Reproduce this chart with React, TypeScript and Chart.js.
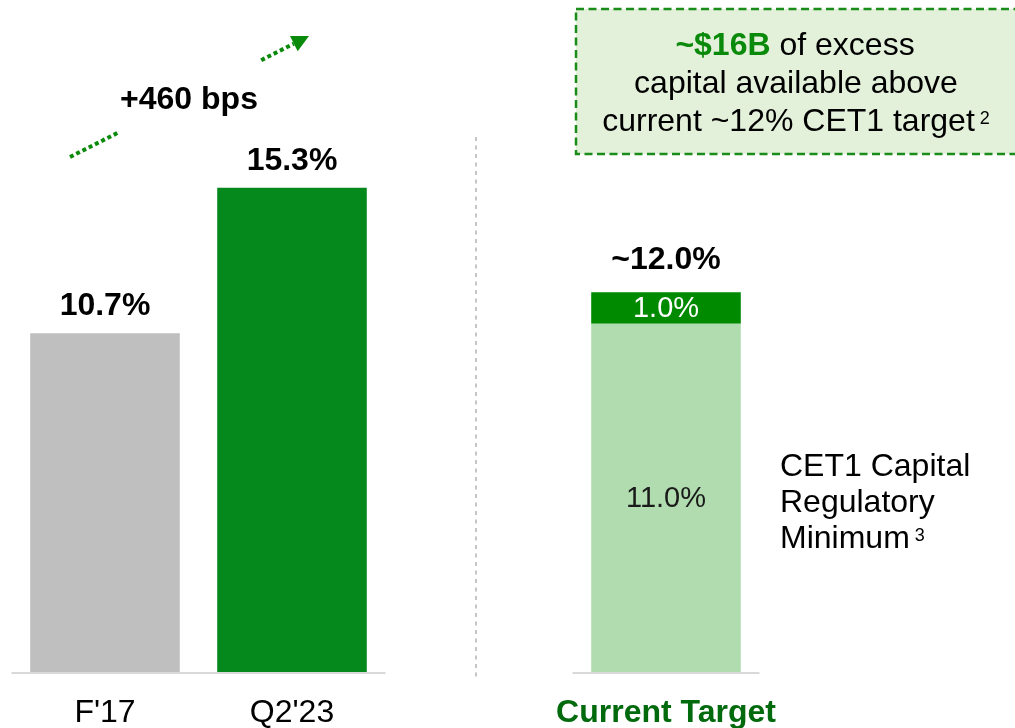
import React, { useEffect, useRef } from "react";
import { Chart, registerables } from "chart.js";

Chart.register(...registerables);

// ---------- data ----------
const categories = ["F'17", "Q2'23", "", "Current Target"];
const baseValues: (number | null)[] = [10.7, 15.3, null, 11.0];
const bufferValues: (number | null)[] = [null, null, null, 1.0];
const totalLabels = ["10.7%", "15.3%", "", "~12.0%"];
const baseInnerLabels = ["", "", "", "11.0%"];
const bufferInnerLabels = ["", "", "", "1.0%"];
const changeLabel = "+460 bps";
const boxHighlight = "~$16B";
const boxLine1Rest = " of excess";
const boxLine2 = "capital available above";
const boxLine3 = "current ~12% CET1 target";
const boxFootnote = "2";
const sideNoteLines = ["CET1 Capital", "Regulatory", "Minimum"];
const sideFootnote = "3";

// ---------- styles ----------
const FONT = "'Liberation Sans', Arial, sans-serif";
const FS = 32;
const baseColors = ["#bfbfbf", "#05891d", "rgba(0,0,0,0)", "#b0dcb0"];
const bufferColor = "#008a00";
const greenText = "#0a8a0a";
const darkGreenText = "#016a0c";

const overlayPlugin = {
  id: "overlay",
  beforeDatasetsDraw(chart: any) {
    const ctx = chart.ctx;
    const x = chart.scales.x;
    const y = chart.scales.y;
    const cw = x.width / categories.length;
    const y0 = y.getPixelForValue(0);
    ctx.save();
    // baseline segments
    ctx.strokeStyle = "#d9d9d9";
    ctx.lineWidth = 2;
    ctx.beginPath();
    ctx.moveTo(x.getPixelForValue(0) - cw / 2, y0 + 1);
    ctx.lineTo(x.getPixelForValue(1) + cw / 2, y0 + 1);
    ctx.moveTo(x.getPixelForValue(3) - cw / 2, y0 + 1);
    ctx.lineTo(x.getPixelForValue(3) + cw / 2, y0 + 1);
    ctx.stroke();
    // separator
    ctx.strokeStyle = "#b3b3b3";
    ctx.lineWidth = 1.5;
    ctx.setLineDash([4, 4.5]);
    ctx.beginPath();
    ctx.moveTo(476, 137);
    ctx.lineTo(476, y0 + 8);
    ctx.stroke();
    ctx.restore();
  },
  afterDatasetsDraw(chart: any) {
    const ctx = chart.ctx;
    const x = chart.scales.x;
    const y = chart.scales.y;
    ctx.save();

    // category labels
    ctx.textAlign = "center";
    ctx.textBaseline = "alphabetic";
    categories.forEach((c, i) => {
      if (!c) return;
      const isTarget = i === 3;
      ctx.font = `${isTarget ? "bold " : ""}${FS}px ${FONT}`;
      ctx.fillStyle = isTarget ? darkGreenText : "#000";
      ctx.fillText(c, x.getPixelForValue(i), 722);
    });

    // total labels
    ctx.font = `bold ${FS}px ${FONT}`;
    ctx.fillStyle = "#000";
    totalLabels.forEach((t, i) => {
      if (!t) return;
      const total = (baseValues[i] || 0) + (bufferValues[i] || 0);
      const off = i === 3 ? 23 : 18;
      ctx.fillText(t, x.getPixelForValue(i), y.getPixelForValue(total) - off);
    });

    // inner labels
    ctx.font = `29px ${FONT}`;
    ctx.textBaseline = "middle";
    baseInnerLabels.forEach((t, i) => {
      if (!t) return;
      const v = baseValues[i] || 0;
      ctx.fillStyle = "#1a1a1a";
      ctx.fillText(t, x.getPixelForValue(i), (y.getPixelForValue(0) + y.getPixelForValue(v)) / 2 + 1);
    });
    bufferInnerLabels.forEach((t, i) => {
      if (!t) return;
      const b = baseValues[i] || 0;
      const v = bufferValues[i] || 0;
      ctx.fillStyle = "#fff";
      ctx.fillText(t, x.getPixelForValue(i), (y.getPixelForValue(b) + y.getPixelForValue(b + v)) / 2 + 1);
    });

    // change label and dotted arrow
    ctx.textBaseline = "alphabetic";
    ctx.font = `bold ${FS}px ${FONT}`;
    ctx.fillStyle = "#000";
    ctx.fillText(changeLabel, 189, 109);

    const sx = 70, sy = 157, tx = 309, ty = 36;
    const dx = tx - sx, dy = ty - sy;
    const len = Math.hypot(dx, dy);
    const ux = dx / len, uy = dy / len;
    const px = -uy, py = ux;
    const headLen = 17, headW = 8.5;
    const bx = tx - headLen * ux, by = ty - headLen * uy;
    ctx.strokeStyle = "#0a8a0a";
    ctx.fillStyle = "#0a8a0a";
    ctx.lineWidth = 4;
    ctx.setLineDash([4, 3]);
    ctx.beginPath();
    ctx.moveTo(sx, sy);
    ctx.lineTo(sx + dx * 0.198, sy + dy * 0.198);
    ctx.moveTo(sx + dx * 0.80, sy + dy * 0.80);
    ctx.lineTo(bx, by);
    ctx.stroke();
    ctx.setLineDash([]);
    ctx.beginPath();
    ctx.moveTo(tx, ty);
    ctx.lineTo(bx + headW * px, by + headW * py);
    ctx.lineTo(bx - headW * px, by - headW * py);
    ctx.closePath();
    ctx.fill();

    // dashed box
    ctx.fillStyle = "#e3f0da";
    ctx.fillRect(576, 9, 442, 145);
    ctx.strokeStyle = "#1a8c1a";
    ctx.lineWidth = 2.5;
    ctx.setLineDash([8, 4.5]);
    ctx.strokeRect(576, 9, 442, 145);
    ctx.setLineDash([]);

    const cx = 795;
    ctx.textAlign = "left";
    ctx.font = `bold ${FS}px ${FONT}`;
    const w1 = ctx.measureText(boxHighlight).width;
    ctx.font = `${FS}px ${FONT}`;
    const w2 = ctx.measureText(boxLine1Rest).width;
    let lx = cx - (w1 + w2) / 2;
    ctx.font = `bold ${FS}px ${FONT}`;
    ctx.fillStyle = greenText;
    ctx.fillText(boxHighlight, lx, 55);
    ctx.font = `${FS}px ${FONT}`;
    ctx.fillStyle = "#000";
    ctx.fillText(boxLine1Rest, lx + w1, 55);

    ctx.textAlign = "center";
    ctx.fillText(boxLine2, 796, 93);

    ctx.textAlign = "left";
    const w3 = ctx.measureText(boxLine3).width;
    ctx.font = `18px ${FONT}`;
    const w4 = ctx.measureText(boxFootnote).width;
    lx = 796 - (w3 + 5 + w4) / 2;
    ctx.font = `${FS}px ${FONT}`;
    ctx.fillText(boxLine3, lx, 131);
    ctx.font = `18px ${FONT}`;
    ctx.fillText(boxFootnote, lx + w3 + 5, 124);

    // side note
    ctx.font = `${FS}px ${FONT}`;
    ctx.fillStyle = "#000";
    const lineYs = [476, 512, 548];
    sideNoteLines.forEach((l, i) => ctx.fillText(l, 780, lineYs[i]));
    const wm = ctx.measureText(sideNoteLines[2]).width;
    ctx.font = `18px ${FONT}`;
    ctx.fillText(sideFootnote, 780 + wm + 5, 541);

    ctx.restore();
  },
};

export default function App() {
  const ref = useRef<HTMLCanvasElement | null>(null);
  useEffect(() => {
    if (!ref.current) return;
    const chart = new Chart(ref.current, {
      type: "bar",
      data: {
        labels: categories,
        datasets: [
          {
            data: baseValues as any,
            backgroundColor: baseColors,
            barPercentage: 1,
            categoryPercentage: 0.8,
            borderWidth: 0,
          },
          {
            data: bufferValues as any,
            backgroundColor: bufferColor,
            barPercentage: 1,
            categoryPercentage: 0.8,
            borderWidth: 0,
          },
        ],
      },
      options: {
        animation: false,
        responsive: false,
        maintainAspectRatio: false,
        layout: { padding: { left: 11.5, right: 255.5, top: 39, bottom: 56 } },
        plugins: { legend: { display: false }, tooltip: { enabled: false } },
        scales: {
          x: { stacked: true, display: false, grid: { display: false } },
          y: { stacked: true, display: false, min: 0, max: 20, grid: { display: false } },
        },
      },
      plugins: [overlayPlugin],
    });
    return () => chart.destroy();
  }, []);
  return (
    <div style={{ position: "fixed", left: 0, top: 0, width: 1015, height: 728, background: "#fff" }}>
      <canvas ref={ref} width={1015} height={728} />
    </div>
  );
}
